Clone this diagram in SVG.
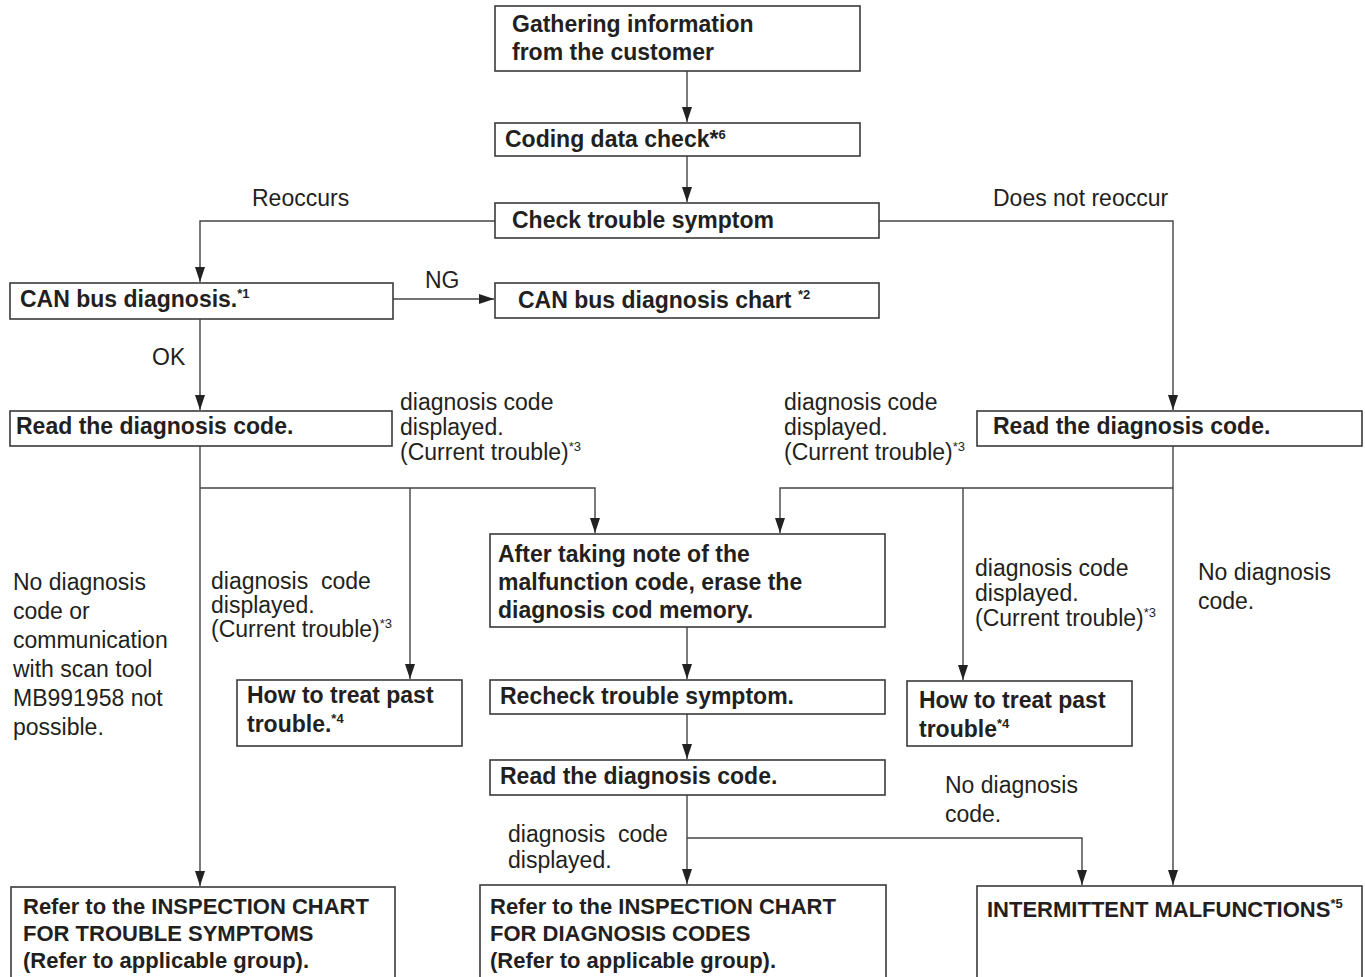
<svg xmlns="http://www.w3.org/2000/svg" width="1365" height="977" viewBox="0 0 1365 977">
<style>
.box{fill:#fff;stroke:#3a3a3a;stroke-width:1.6}
.ln{fill:none;stroke:#444;stroke-width:1.4}
.b{font-family:"Liberation Sans",Arial,sans-serif;font-weight:bold;font-size:23px;fill:#231f20}
.bs{font-family:"Liberation Sans",Arial,sans-serif;font-weight:bold;font-size:22px;fill:#231f20}
.r{font-family:"Liberation Sans",Arial,sans-serif;font-size:23px;fill:#231f20}
.s{font-size:13px}
</style>
<defs>
<marker id="ah" markerUnits="userSpaceOnUse" markerWidth="10" markerHeight="15" refX="5" refY="15" orient="0" viewBox="0 0 10 15">
<path d="M0,0 L10,0 L5,15 z" fill="#222"/>
</marker>
<marker id="ar" markerUnits="userSpaceOnUse" markerWidth="15" markerHeight="10" refX="15" refY="5" orient="0" viewBox="0 0 15 10">
<path d="M0,0 L15,5 L0,10 z" fill="#222"/>
</marker>
</defs>
<rect width="1365" height="977" fill="#fff"/>

<g id="connectors">
<path class="ln" d="M687,71 V122" marker-end="url(#ah)"/>
<path class="ln" d="M687,156 V202" marker-end="url(#ah)"/>
<path class="ln" d="M495,221 H200 V282" marker-end="url(#ah)"/>
<path class="ln" d="M879,221 H1173 V410" marker-end="url(#ah)"/>
<path class="ln" d="M393,299 H494" marker-end="url(#ar)"/>
<path class="ln" d="M200,319 V410" marker-end="url(#ah)"/>
<path class="ln" d="M200,446 V886" marker-end="url(#ah)"/>
<path class="ln" d="M200,488 H595 V533" marker-end="url(#ah)"/>
<path class="ln" d="M410,488 V679" marker-end="url(#ah)"/>
<path class="ln" d="M1173,446 V885" marker-end="url(#ah)"/>
<path class="ln" d="M1173,488 H780 V533" marker-end="url(#ah)"/>
<path class="ln" d="M963,488 V680" marker-end="url(#ah)"/>
<path class="ln" d="M687,627 V679" marker-end="url(#ah)"/>
<path class="ln" d="M687,714 V759" marker-end="url(#ah)"/>
<path class="ln" d="M687,795 V884" marker-end="url(#ah)"/>
<path class="ln" d="M687,838 H1082 V885" marker-end="url(#ah)"/>
</g>

<g id="labels">
<text class="r" x="252" y="206">Reoccurs</text>
<text class="r" x="993" y="206">Does not reoccur</text>
<text class="r" x="425" y="288">NG</text>
<text class="r" x="152" y="365">OK</text>
<text class="r" x="400"><tspan x="400" y="410">diagnosis code</tspan><tspan x="400" y="435">displayed.</tspan><tspan x="400" y="460">(Current trouble)<tspan class="s" dy="-9">*3</tspan></tspan></text>
<text class="r" x="784"><tspan x="784" y="410">diagnosis code</tspan><tspan x="784" y="435">displayed.</tspan><tspan x="784" y="460">(Current trouble)<tspan class="s" dy="-9">*3</tspan></tspan></text>
<text class="r"><tspan x="13" y="590">No diagnosis</tspan><tspan x="13" y="619">code or</tspan><tspan x="13" y="648">communication</tspan><tspan x="13" y="677">with scan tool</tspan><tspan x="13" y="706">MB991958 not</tspan><tspan x="13" y="735">possible.</tspan></text>
<text class="r"><tspan x="211" y="589" xml:space="preserve">diagnosis  code</tspan><tspan x="211" y="613">displayed.</tspan><tspan x="211" y="637">(Current trouble)<tspan class="s" dy="-9">*3</tspan></tspan></text>
<text class="r"><tspan x="975" y="576">diagnosis code</tspan><tspan x="975" y="601">displayed.</tspan><tspan x="975" y="626">(Current trouble)<tspan class="s" dy="-9">*3</tspan></tspan></text>
<text class="r"><tspan x="1198" y="580">No diagnosis</tspan><tspan x="1198" y="609">code.</tspan></text>
<text class="r"><tspan x="945" y="793">No diagnosis</tspan><tspan x="945" y="822">code.</tspan></text>
<text class="r"><tspan x="508" y="842" xml:space="preserve">diagnosis  code</tspan><tspan x="508" y="868">displayed.</tspan></text>
</g>

<g id="n-gather">
<rect class="box" x="495" y="6" width="365" height="65"/>
<text class="b"><tspan x="512" y="32">Gathering information</tspan><tspan x="512" y="60">from the customer</tspan></text>
</g>
<g id="n-coding">
<rect class="box" x="495" y="123" width="365" height="33"/>
<text class="b" x="505" y="147">Coding data check*<tspan class="s" dy="-8">6</tspan></text>
</g>
<g id="n-check">
<rect class="box" x="495" y="203" width="384" height="35"/>
<text class="b" x="512" y="228">Check trouble symptom</text>
</g>
<g id="n-canbus">
<rect class="box" x="10" y="283" width="383" height="36"/>
<text class="b" x="20" y="307">CAN bus diagnosis.<tspan class="s" dy="-9">*1</tspan></text>
</g>
<g id="n-canchart">
<rect class="box" x="495" y="283" width="384" height="35"/>
<text class="b" x="518" y="308">CAN bus diagnosis chart <tspan class="s" dy="-9">*2</tspan></text>
</g>
<g id="n-read-left">
<rect class="box" x="10" y="411" width="382" height="35"/>
<text class="b" x="16" y="434">Read the diagnosis code.</text>
</g>
<g id="n-read-right">
<rect class="box" x="977" y="411" width="385" height="35"/>
<text class="b" x="993" y="434">Read the diagnosis code.</text>
</g>
<g id="n-after">
<rect class="box" x="490" y="534" width="395" height="93"/>
<text class="b"><tspan x="498" y="562">After taking note of the</tspan><tspan x="498" y="590">malfunction code, erase the</tspan><tspan x="498" y="618">diagnosis cod memory.</tspan></text>
</g>
<g id="n-past-left">
<rect class="box" x="237" y="680" width="225" height="66"/>
<text class="b"><tspan x="247" y="703">How to treat past</tspan><tspan x="247" y="732">trouble.<tspan class="s" dy="-9">*4</tspan></tspan></text>
</g>
<g id="n-recheck">
<rect class="box" x="490" y="680" width="395" height="34"/>
<text class="b" x="500" y="704">Recheck trouble symptom.</text>
</g>
<g id="n-past-right">
<rect class="box" x="907" y="681" width="225" height="65"/>
<text class="b"><tspan x="919" y="708">How to treat past</tspan><tspan x="919" y="737">trouble<tspan class="s" dy="-9">*4</tspan></tspan></text>
</g>
<g id="n-read-mid">
<rect class="box" x="490" y="760" width="395" height="35"/>
<text class="b" x="500" y="784">Read the diagnosis code.</text>
</g>
<g id="n-chart-symptoms">
<rect class="box" x="11" y="887" width="384" height="100"/>
<text class="bs"><tspan x="23" y="914">Refer to the INSPECTION CHART</tspan><tspan x="23" y="941">FOR TROUBLE SYMPTOMS</tspan><tspan x="23" y="968">(Refer to applicable group).</tspan></text>
</g>
<g id="n-chart-codes">
<rect class="box" x="480" y="885" width="406" height="102"/>
<text class="bs"><tspan x="490" y="914">Refer to the INSPECTION CHART</tspan><tspan x="490" y="941">FOR DIAGNOSIS CODES</tspan><tspan x="490" y="968">(Refer to applicable group).</tspan></text>
</g>
<g id="n-intermittent">
<rect class="box" x="977" y="886" width="385" height="101"/>
<text class="bs" x="987" y="917">INTERMITTENT MALFUNCTIONS<tspan class="s" dy="-9">*5</tspan></text>
</g>
</svg>
